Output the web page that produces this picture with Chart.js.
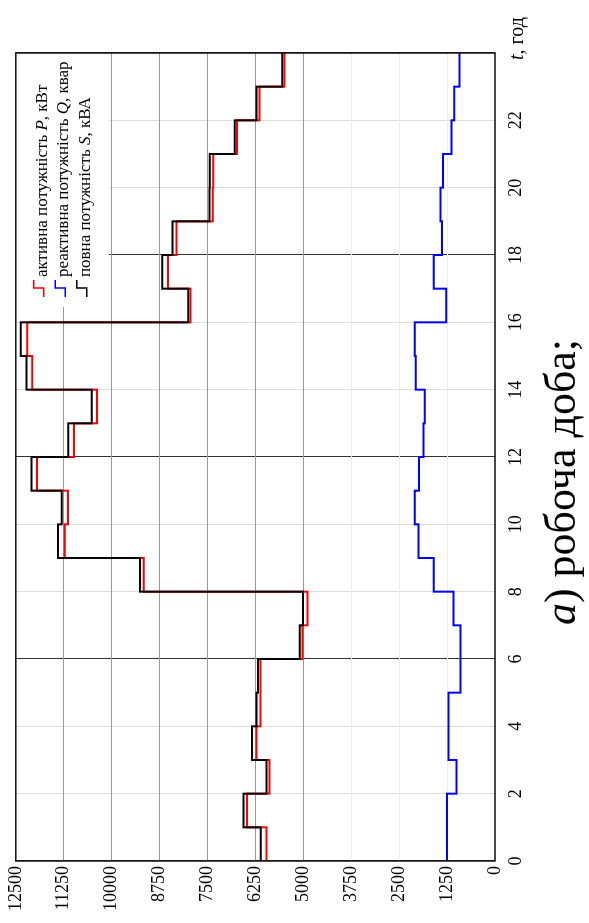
<!DOCTYPE html>
<html>
<head>
<meta charset="utf-8">
<script src="https://cdn.jsdelivr.net/npm/chart.js@4/dist/chart.umd.min.js"></script>
<style>
  html, body { margin: 0; padding: 0; background: #fff; }
  body { width: 589px; height: 923px; overflow: hidden; position: relative; }
  /* the chart is laid out in landscape and turned a quarter turn counter-clockwise */
  #frame { position: absolute; left: 0; top: 923px; width: 923px; height: 589px;
           transform-origin: 0 0; transform: rotate(-90deg); }
  canvas { display: block; }
</style>
</head>
<body>
<div id="frame"><canvas id="load" width="923" height="589"></canvas></div>
<script>
// hour boundaries of the working day
const hours = [0,1,2,3,4,5,6,7,8,9,10,11,12,13,14,15,16,17,18,19,20,21,22,23,24];

// hourly load, one value per hour 0..23
const activeP   = [5960,6470,5880,6220,6120,6120,5020,4890,9160,11220,11140,11950,
                   10980,10380,12070,12200,7940,8530,8310,7360,7350,6730,6140,5490];
const reactiveQ = [1250,1250,1005,1210,1210,900,900,1080,1595,1995,2095,1985,
                   1865,1830,2070,2095,1270,1600,1385,1420,1355,1135,1065,925];
const apparentS = [6110,6560,5960,6340,6220,6180,5090,5010,9260,11400,11300,12090,
                   11130,10520,12220,12370,8000,8680,8410,7450,7440,6790,6220,5550];

const timeTicks  = [0,2,4,6,8,10,12,14,16,18,20,22,24];
const powerTicks = [0,1250,2500,3750,5000,6250,7500,8750,10000,11250,12500];

const legendRows = [
  { color: '#ff0000', parts: [['активна потужність ', false], ['P', true], [', кВт', false]] },
  { color: '#0000ff', parts: [['реактивна потужність ', false], ['Q', true], [', квар', false]] },
  { color: '#000000', parts: [['повна потужність ', false], ['S', true], [', кВА', false]] }
];
const axisTitle = [['t', true], [', год', false]];
const caption   = [['а', true], [') робоча доба;', false]];

const SERIF = '"Liberation Serif", "DejaVu Serif", serif';

// each hourly value is held until the next hour; the last one until 24
function steps(values) {
  return hours.map((h, i) => ({ x: h, y: values[Math.min(i, values.length - 1)] }));
}

function drawParts(ctx, parts, x, y, size, align) {
  const fonts = parts.map(p => (p[1] ? 'italic ' : '') + size + 'px ' + SERIF);
  let total = 0;
  const widths = parts.map((p, i) => { ctx.font = fonts[i]; const w = ctx.measureText(p[0]).width; total += w; return w; });
  let cx = align === 'center' ? x - total / 2 : x;
  ctx.textAlign = 'left';
  ctx.textBaseline = 'alphabetic';
  parts.forEach((p, i) => { ctx.font = fonts[i]; ctx.fillText(p[0], cx, y); cx += widths[i]; });
}

const decorations = {
  id: 'decorations',
  afterDatasetsDraw(chart) {
    const { ctx, chartArea: a } = chart;
    ctx.save();
    // legend panel in the upper right corner of the plot
    const bx = a.right - 254;
    ctx.fillStyle = '#fff';
    ctx.fillRect(bx, a.top, 254, 93);
    legendRows.forEach((row, i) => {
      const base = a.top + 31 + i * 21.5;
      const ix = bx + 10;
      ctx.strokeStyle = row.color;
      ctx.lineWidth = 1.5;
      ctx.beginPath();
      ctx.moveTo(ix, base - 3);
      ctx.lineTo(ix + 9, base - 3);
      ctx.lineTo(ix + 9, base - 13);
      ctx.lineTo(ix + 17, base - 13);
      ctx.stroke();
      ctx.fillStyle = '#000';
      drawParts(ctx, row.parts, ix + 20, base, 17, 'left');
    });
    // plot frame
    ctx.strokeStyle = '#111';
    ctx.lineWidth = 1.5;
    ctx.strokeRect(a.left, a.top, a.right - a.left, a.bottom - a.top);
    ctx.restore();
  },
  afterDraw(chart) {
    const { ctx, chartArea: a } = chart;
    ctx.save();
    ctx.fillStyle = '#000';
    drawParts(ctx, axisTitle, a.right - 7, 523, 20, 'left');
    drawParts(ctx, caption, 441, 575, 44, 'center');
    ctx.restore();
  }
};

new Chart(document.getElementById('load'), {
  type: 'line',
  data: {
    datasets: [
      { label: 'P', data: steps(activeP),   borderColor: '#ff0000', borderWidth: 2, stepped: true, pointRadius: 0, fill: false, order: 1 },
      { label: 'Q', data: steps(reactiveQ), borderColor: '#0000ff', borderWidth: 2, stepped: true, pointRadius: 0, fill: false, order: 2 },
      { label: 'S', data: steps(apparentS), borderColor: '#000000', borderWidth: 2, stepped: true, pointRadius: 0, fill: false, order: 0 }
    ]
  },
  options: {
    responsive: false,
    animation: false,
    devicePixelRatio: 1,
    layout: { padding: { top: 15, right: 53, left: 0, bottom: 0 } },
    plugins: { legend: { display: false }, tooltip: { enabled: false } },
    scales: {
      x: {
        type: 'linear', min: 0, max: 24,
        afterBuildTicks: s => { s.ticks = timeTicks.map(v => ({ value: v })); },
        afterFit: s => { s.height = 94; },
        ticks: {
          autoSkip: false, maxRotation: 0, padding: 10, color: '#000',
          font: { family: SERIF, size: 18 },
          callback: v => (v === 24 ? '' : String(v))
        },
        grid: {
          drawTicks: false,
          lineWidth: 1,
          color: c => (c.tick && c.tick.value % 6 === 0 ? '#333333' : '#dddddd')
        },
        border: { display: false }
      },
      y: {
        min: 0, max: 12500,
        afterBuildTicks: s => { s.ticks = powerTicks.map(v => ({ value: v })); },
        afterFit: s => { s.width = 62; },
        ticks: {
          autoSkip: false, padding: 5, color: '#000',
          font: { family: SERIF, size: 18 },
          callback: v => String(v)
        },
        grid: {
          drawTicks: false,
          lineWidth: 1,
          color: c => (c.tick && c.tick.value >= 5000 ? '#999999' : '#eeeeee')
        },
        border: { display: false }
      }
    }
  },
  plugins: [decorations]
});
</script>
</body>
</html>
